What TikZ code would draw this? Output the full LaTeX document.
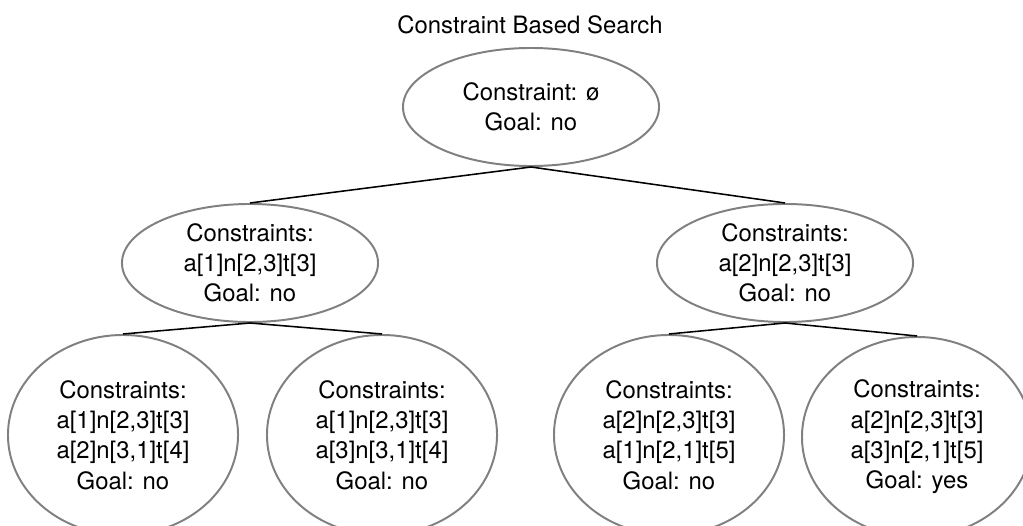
\documentclass[tikz,border=0pt]{standalone}
\usepackage{fontspec}
\setmainfont{TeX Gyre Heros}
\usetikzlibrary{shapes,positioning}

\begin{document}
\begin{tikzpicture}[x=0.025cm, y=-0.025cm,
    every node/.style={font=\fontsize{17}{21.5}\selectfont, align=center},
    cnode/.style={draw=gray, line width=1.4pt, ellipse, inner sep=0pt, minimum width=6.4cm, minimum height=2.95cm},
    leaf/.style={cnode, minimum width=5.75cm, minimum height=5cm},
    link/.style={line width=1.1pt}]
\clip (0,0) rectangle (1023,525);

% Title
\node (title) at (530,25) {Constraint Based Search};

% Root
\node[cnode] (root) at (531,107) {Constraint: ø\\Goal: no};

% First level
\node[cnode] (c1) at (250,263) {Constraints:\\a[1]n[2,3]t[3]\\Goal: no};
\node[cnode] (c2) at (785,263) {Constraints:\\a[2]n[2,3]t[3]\\Goal: no};

% Second level
\node[leaf] (c11) at (123,435) {Constraints:\\a[1]n[2,3]t[3]\\a[2]n[3,1]t[4]\\Goal: no};
\node[leaf] (c12) at (382,435) {Constraints:\\a[1]n[2,3]t[3]\\a[3]n[3,1]t[4]\\Goal: no};
\node[leaf] (c21) at (669,435) {Constraints:\\a[2]n[2,3]t[3]\\a[1]n[2,1]t[5]\\Goal: no};
\node[leaf] (c22) at (917,437) {Constraints:\\a[2]n[2,3]t[3]\\a[3]n[2,1]t[5]\\Goal: yes};

% Connectors
\draw[link] (root.south) -- (c1.north);
\draw[link] (root.south) -- (c2.north);
\draw[link] (c1.south) -- (c11.north);
\draw[link] (c1.south) -- (c12.north);
\draw[link] (c2.south) -- (c21.north);
\draw[link] (c2.south) -- (c22.north);
\end{tikzpicture}
\end{document}
